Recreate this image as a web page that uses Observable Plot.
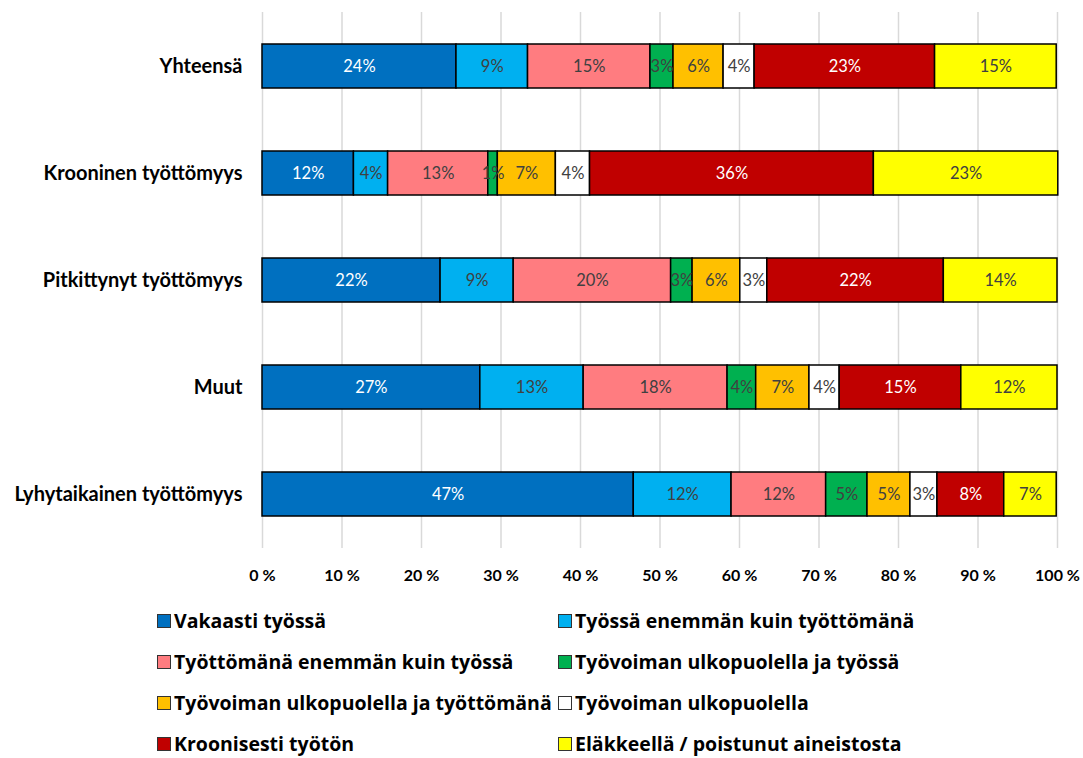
<!DOCTYPE html>
<html><head><meta charset="utf-8">
<script src="https://cdn.jsdelivr.net/npm/d3@7"></script>
<script src="https://cdn.jsdelivr.net/npm/@observablehq/plot@0.6"></script>
<style>
body{margin:0;background:#fff;font-family:Lato,"DejaVu Sans",sans-serif;}
#wrap{position:relative;width:1083px;height:758px;overflow:hidden;}
#legend{position:absolute;left:0;top:0;width:1083px;height:758px;pointer-events:none;}
.item{position:absolute;display:flex;align-items:center;font-family:"Open Sans",sans-serif;font-weight:bold;font-size:19.5px;color:#000;white-space:nowrap;line-height:22px;}
.sw{width:14px;height:14px;border:1.5px solid #333;margin-right:3px;box-sizing:border-box;}
</style></head><body><div id="wrap"><div id="chart"></div><div id="legend"></div></div>
<script>
const categories = ["Yhteensä","Krooninen työttömyys","Pitkittynyt työttömyys","Muut","Lyhytaikainen työttömyys"];
const series = ["Vakaasti työssä","Työssä enemmän kuin työttömänä","Työttömänä enemmän kuin työssä","Työvoiman ulkopuolella ja työssä","Työvoiman ulkopuolella ja työttömänä","Työvoiman ulkopuolella","Kroonisesti työtön","Eläkkeellä / poistunut aineistosta"];
const colors = ["#0070C0","#00B0F0","#FF7C80","#00B050","#FFC000","#FFFFFF","#C00000","#FFFF00"];
// values per series, in category order
const vakaasti          = [24.4, 11.5, 22.4, 27.4, 46.7];
const tyossaEnemman     = [ 9.0,  4.3,  9.2, 13.0, 12.3];
const tyottomanaEnemman = [15.4, 12.6, 19.8, 18.1, 11.9];
const ulkJaTyossa       = [ 2.9,  1.2,  2.7,  3.6,  5.2];
const ulkJaTyottomana   = [ 6.3,  7.3,  6.0,  6.7,  5.4];
const ulkopuolella      = [ 3.9,  4.3,  3.4,  3.8,  3.4];
const kroonisesti       = [22.7, 35.7, 22.2, 15.3,  8.4];
const elakkeella        = [15.3, 23.2, 14.3, 12.1,  6.6];
const xTicks = [0,10,20,30,40,50,60,70,80,90,100];

const values = [vakaasti,tyossaEnemman,tyottomanaEnemman,ulkJaTyossa,ulkJaTyottomana,ulkopuolella,kroonisesti,elakkeella];
const lightText = new Set([series[0], series[6]]);
const data = [];
series.forEach((s,i)=>categories.forEach((c,j)=>data.push({category:c, series:s, value:values[i][j]})));
const lab = d => Math.round(d.value) + "%";

const chart = Plot.plot({
  width:1083, height:600,
  marginLeft:262, marginRight:26, marginTop:12, marginBottom:52,
  style:{fontFamily:"Lato, sans-serif", background:"#fff", overflow:"visible"},
  x:{domain:[0,100], label:null},
  y:{domain:categories, paddingInner:0.59, paddingOuter:0.295, label:null},
  color:{domain:series, range:colors},
  marks:[
    Plot.gridX(xTicks, {stroke:"#d9d9d9", strokeOpacity:1, strokeWidth:1.5}),
    Plot.axisX({ticks:xTicks, tickFormat:d=>d+" %", tickSize:0, tickPadding:21, fontSize:16, fontWeight:"bold", fill:"#000", label:null}),
    Plot.axisY({tickSize:0, tickPadding:20, fontSize:20, fontWeight:"bold", fill:"#000", label:null}),
    Plot.barX(data, Plot.stackX({x:"value", y:"category", fill:"series", order:series, stroke:"#000", strokeWidth:1.5})),
    Plot.text(data, Plot.stackX({x:"value", y:"category", z:"series", order:series, text:d=>lightText.has(d.series)?lab(d):"", fill:"#fff", fontSize:16.5})),
    Plot.text(data, Plot.stackX({x:"value", y:"category", z:"series", order:series, text:d=>lightText.has(d.series)?"":lab(d), fill:"#404040", fontSize:16.5}))
  ]
});
document.getElementById("chart").appendChild(chart);

const legend = document.getElementById("legend");
const rowsY = [621,662,703,744];
const colsX = [157,558];
series.forEach((s,i)=>{
  const el = document.createElement("div");
  el.className = "item";
  el.style.left = colsX[i%2] + "px";
  el.style.top = (rowsY[Math.floor(i/2)] - 11) + "px";
  const sw = document.createElement("span");
  sw.className = "sw";
  sw.style.background = colors[i];
  el.appendChild(sw);
  el.appendChild(document.createTextNode(s));
  legend.appendChild(el);
});
</script>
</body></html>
